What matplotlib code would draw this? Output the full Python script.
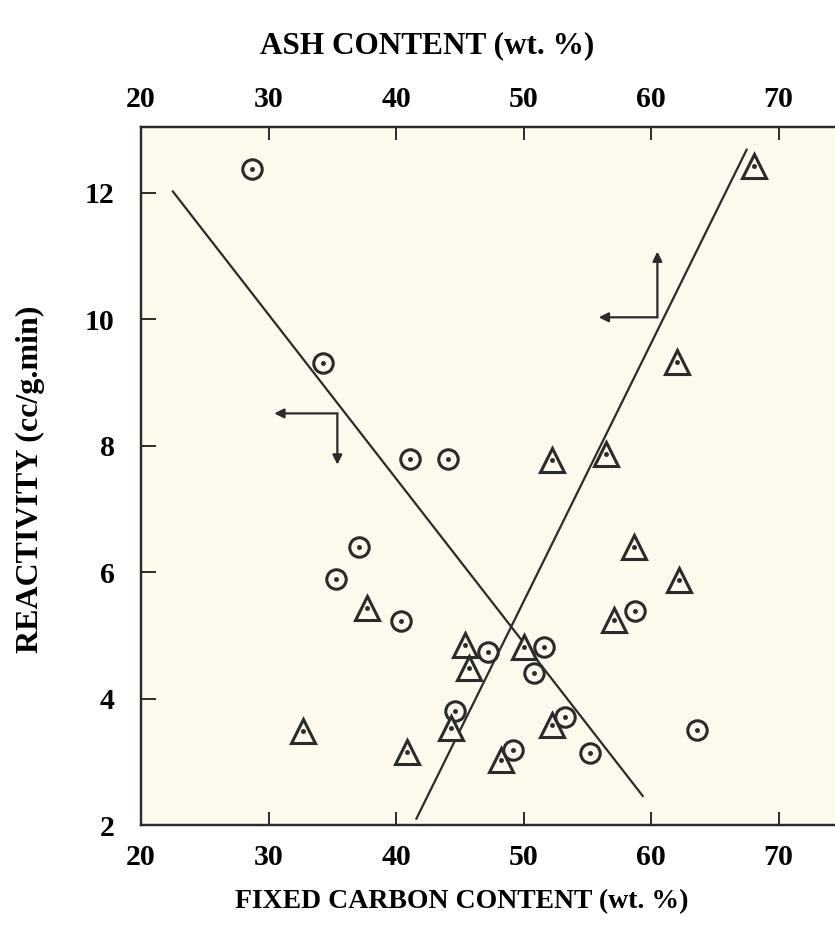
import matplotlib
matplotlib.use("Agg")
import matplotlib.pyplot as plt

# reactivity vs fixed carbon (circles, bottom axis) and vs ash (triangles, top axis)
fc_carbon = [28.7, 34.25, 41.1, 44.1, 37.07, 35.3, 40.4, 47.2, 44.6, 58.75, 51.6, 50.8, 53.25, 49.15, 55.2, 63.6]
fc_react = [12.38, 9.31, 7.79, 7.79, 6.40, 5.89, 5.22, 4.74, 3.81, 5.39, 4.82, 4.40, 3.71, 3.18, 3.14, 3.51]
ash = [68.1, 62.0, 52.2, 56.5, 37.7, 45.4, 45.75, 44.3, 32.7, 40.9, 58.7, 62.2, 57.1, 50.0, 52.2, 48.2]
ash_react = [12.42, 9.33, 7.78, 7.87, 5.43, 4.85, 4.48, 3.53, 3.49, 3.16, 6.40, 5.88, 5.24, 4.82, 3.58, 3.03]

# fitted trend lines (end points)
fc_line_x, fc_line_y = [22.5, 59.35], [12.02, 2.46]
ash_line_x, ash_line_y = [41.6, 67.5], [2.1, 12.68]

xticks = [20, 30, 40, 50, 60, 70]
yticks = [2, 4, 6, 8, 10, 12]

INK = "#2b2b2b"
PAPER = "#fdf9ec"
FONT = ["Liberation Serif", "DejaVu Serif"]

fig = plt.figure(figsize=(8.35, 9.3), dpi=100)
ax = fig.add_axes([141 / 835, 105 / 930, 1 - 141 / 835, 698 / 930])
ax.set_facecolor(PAPER)
ax.set_xlim(20, 74.43)
ax.set_ylim(2, 13.04)

ax.plot(fc_line_x, fc_line_y, color=INK, lw=1.6)
ax.plot(fc_carbon, fc_react, ls="none", marker="o", ms=14, mfc=PAPER, mec=INK, mew=2.2)
ax.plot(fc_carbon, fc_react, ls="none", marker="o", ms=2.5, color=INK)

top = ax.twiny()
top.set_xlim(ax.get_xlim())
top.plot(ash_line_x, ash_line_y, color=INK, lw=1.6)
top.plot(ash, ash_react, ls="none", marker="^", ms=17, mfc=PAPER, mec=INK, mew=2.2)
top.plot(ash, ash_react, ls="none", marker="o", ms=2.5, color=INK)

# axis-pointer arrows
arr = dict(arrowstyle="-|>", color=INK, lw=1.6, mutation_scale=14, shrinkA=0, shrinkB=0)
ax.annotate("", xy=(30.45, 8.51), xytext=(35.4, 8.51), arrowprops=arr)
ax.annotate("", xy=(35.4, 7.70), xytext=(35.4, 8.51), arrowprops=arr)
ax.annotate("", xy=(55.9, 10.03), xytext=(60.5, 10.03), arrowprops=arr)
ax.annotate("", xy=(60.5, 11.07), xytext=(60.5, 10.03), arrowprops=arr)

for a in (ax, top):
    a.spines["right"].set_visible(False)
    for s in ("left", "bottom", "top"):
        a.spines[s].set_color(INK)
        a.spines[s].set_linewidth(1.6)

ax.set_xticks(xticks)
ax.set_yticks(yticks)
top.set_xticks(xticks)
ax.tick_params(axis="x", direction="in", length=9.5, width=1.4, color=INK, pad=14)
ax.tick_params(axis="y", direction="in", length=10.5, width=1.4, color=INK, pad=19)
top.tick_params(axis="x", direction="in", length=9.5, width=1.4, color=INK, pad=10)
for lab in ax.get_xticklabels() + ax.get_yticklabels() + top.get_xticklabels():
    lab.set_fontfamily(FONT)
    lab.set_fontweight("bold")
    lab.set_fontsize(21.5)

fig.text(0.512, 0.951, "ASH CONTENT (wt. %)", ha="center", va="center",
         fontsize=22.5, fontweight="bold", family=FONT)
fig.text(0.553, 0.031, "FIXED CARBON CONTENT (wt. %)", ha="center", va="center",
         fontsize=20, fontweight="bold", family=FONT)
fig.text(0.037, 0.485, "REACTIVITY (cc/g.min)", ha="center", va="center", rotation=90,
         fontsize=23, fontweight="bold", family=FONT)

fig.savefig("out.png", dpi=100)
